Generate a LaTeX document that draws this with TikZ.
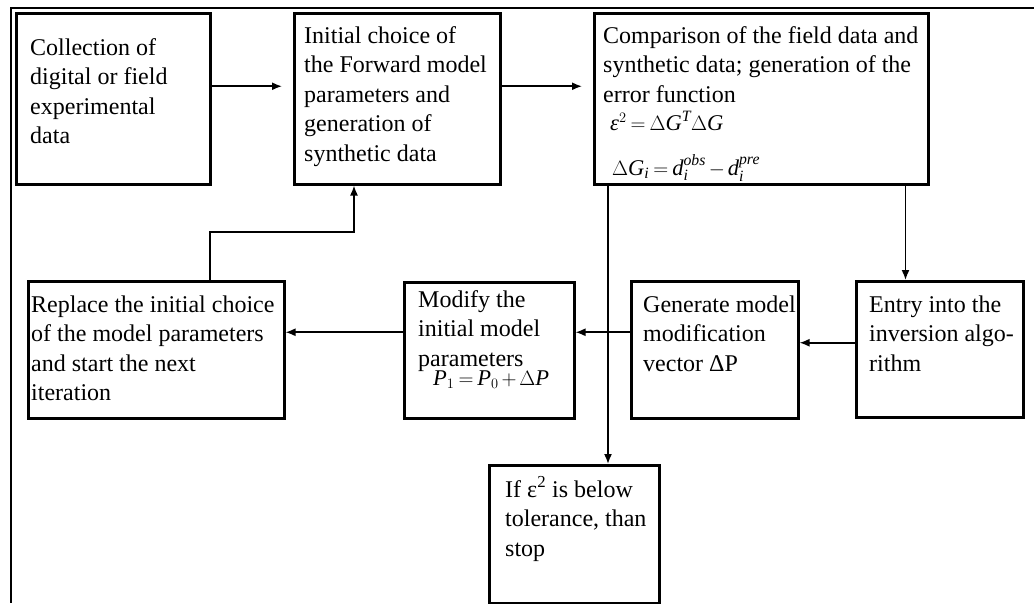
\documentclass[tikz,border=0pt]{standalone}
\usepackage{amsmath}
\usepackage{fontspec}
\setmainfont{Liberation Serif}
\usetikzlibrary{arrows.meta}

% righe di testo allineate alla prima linea di base
\newcommand{\righe}[1]{\begin{tabular}[t]{@{}l@{}}#1\end{tabular}}
% lettere delle formule nel corsivo del testo
\newcommand{\vi}[1]{\textit{#1}}
% formula con spaziatura stretta
\newcommand{\formula}[1]{{\fontsize{22.5}{26}\selectfont\medmuskip=2.5mu\thickmuskip=3.5mu$#1$}}

\begin{document}
\begin{tikzpicture}[
	x=1pt, y=-1pt,
	cornice/.style={line width=2.8pt, black},
	stepbox/.style={draw, line width=2.5pt, inner sep=0pt, anchor=north west},
	steptext/.style={anchor=base west, inner sep=0pt,
		font=\fontsize{24}{29.5}\selectfont},
	link/.style={-{Latex[length=10pt,width=8pt]}, line width=1.6pt, black},
	]
	
	\useasboundingbox (0,0) rectangle (1034,603);
	
	%%=== cornice esterna (solo lati superiore e sinistro) ===
	\draw[cornice] (1034,8) -- (11,8) -- (11,603);
	
	%%=== riga superiore ===
	\node[stepbox, minimum width=194pt, minimum height=171pt] (collect) at (15,12) {};
	\node[steptext] (collect-t) at (30,55) {\righe{Collection of\\digital or field\\experimental\\data}};
	
	\node[stepbox, minimum width=206pt, minimum height=171pt] (initial) at (293,12) {};
	\node[steptext] (initial-t) at (304,43) {\righe{Initial choice of\\the Forward model\\parameters and\\generation of\\synthetic data}};
	
	\node[stepbox, minimum width=334pt, minimum height=171pt] (compare) at (593,12) {};
	\node[steptext] (compare-t) at (603,43) {\righe{Comparison of the field data and\\synthetic data; generation of the\\error function\\[-1pt]
		\hspace*{7pt}\formula{\vi{ε}^{2}=\Delta\vi{G}^{\vi{T}}\Delta\vi{G}}\\[15pt]
		\hspace*{9pt}\formula{\Delta\vi{G}_{\vi{i}}=\vi{d}_{\vi{i}}^{\vi{obs}}-\vi{d}_{\vi{i}}^{\vi{pre}}}}};
	
	%%=== riga centrale ===
	\node[stepbox, minimum width=256pt, minimum height=137pt] (replace) at (27,280) {};
	\node[steptext] (replace-t) at (31,312) {\righe{Replace the initial choice\\of the model parameters\\and start the next\\iteration}};
	
	\node[stepbox, minimum width=170pt, minimum height=136pt] (modify) at (403,281) {};
	\node[steptext] (modify-t) at (418,307) {\righe{Modify the\\initial model\\parameters\\[-10.5pt]
		\hspace*{15pt}\formula{\vi{P}_{1}=\vi{P}_{0}+\Delta\vi{P}}}};
	
	\node[stepbox, minimum width=167pt, minimum height=137pt] (generate) at (630,280) {};
	\node[steptext] (generate-t) at (643,312) {\righe{Generate model\\modification\\vector ΔP}};
	
	\node[stepbox, minimum width=167pt, minimum height=136pt] (entry) at (855,280) {};
	\node[steptext] (entry-t) at (869,312) {\righe{Entry into the\\inversion algo-\\rithm}};
	
	%%=== riga inferiore ===
	\node[stepbox, minimum width=170pt, minimum height=138pt] (stop) at (488,464) {};
	\node[steptext] (stop-t) at (505,497) {\righe{If ε\textsuperscript{2} is below\\tolerance, than\\stop}};
	
	%%=== collegamenti ===
	\draw[link, shorten >=11pt] ([yshift=12.5pt]collect.east) -- ([yshift=12.5pt]initial.west);
	\draw[link, shorten >=11pt] ([yshift=12.5pt]initial.east) -- ([yshift=12.5pt]compare.west);
	% ritorno alla scelta iniziale
	\coordinate (bend) at (354,232);
	\draw[link] ([xshift=54pt]replace.north) |- (bend) -- (bend |- initial.south);
	% uscite del confronto
	\draw[link] ([xshift=15pt]compare.south west) -- ([xshift=15pt]compare.south west |- stop.north);
	\draw[link] ([xshift=-24pt]compare.south east) -- ([xshift=-24pt]compare.south east |- entry.north);
	% catena di inversione
	\draw[link] ([yshift=6.5pt]entry.west) -- ([yshift=6.5pt]entry.west -| generate.east);
	\draw[link] ([yshift=17.5pt]generate.west) -- ([yshift=17.5pt]generate.west -| modify.east);
	\draw[link] ([yshift=18pt]modify.west) -- ([yshift=18pt]modify.west -| replace.east);
	
\end{tikzpicture}
\end{document}
